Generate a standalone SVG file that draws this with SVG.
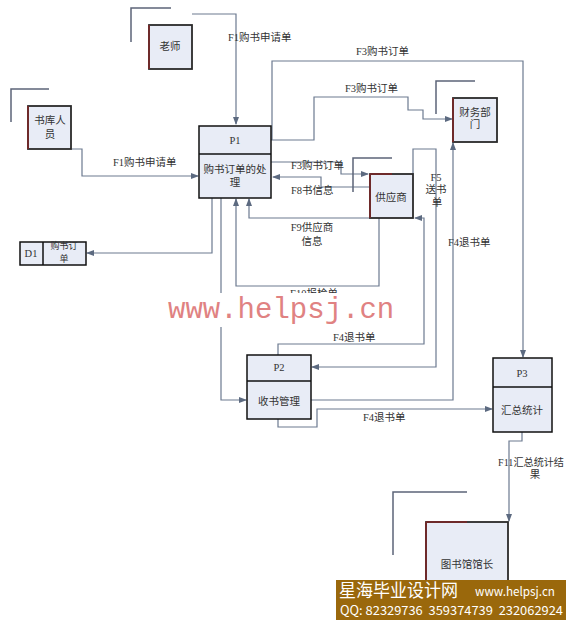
<svg xmlns="http://www.w3.org/2000/svg" width="566" height="620" viewBox="0 0 566 620">
<defs>
<marker id="arr" markerUnits="userSpaceOnUse" markerWidth="8" markerHeight="6" refX="7" refY="3" orient="auto">
<path d="M0,0 L8,3 L0,6 z" fill="#5c6a80"/>
</marker>
<style>
.ent{fill:#e8ecf6;stroke:#2a2a2a;stroke-width:1.8}
.edge{stroke:#6e2a2a;stroke-width:2}
.proc{fill:#e8ecf6;stroke:#111;stroke-width:1.5}
.deco{fill:none;stroke:#5c6478;stroke-width:1.5}
.con{fill:none;stroke:#6c7a90;stroke-width:1.2}
.arr{marker-end:url(#arr)}
text{font-family:"Liberation Serif","Noto Sans CJK SC",serif;font-size:10.5px;fill:#333}
.c{text-anchor:middle}
.sm{font-size:9px}
.wm{font-family:"Liberation Mono",monospace;font-size:29px;fill:#e08282}
.bn{font-family:"Noto Sans CJK SC",sans-serif;fill:#fff;white-space:pre}
.b1{font-size:18px}
.b2{font-size:12.5px}
</style>
</defs>
<rect width="566" height="620" fill="#fff"/>

<g id="connectors">
<path class="con arr" d="M192,14 H236 V124"/>
<path class="con arr" d="M71,149 H82 V176 H198"/>
<path class="con arr" d="M271,140 H314 V97 H408 V110 H423 V119 H452"/>
<path class="con arr" d="M272,140 V61 H523 V357"/>
<path class="con arr" d="M271,162 H341 V174 H368"/>
<path class="con arr" d="M370,187 H321 V177 H273"/>
<path class="con arr" d="M370,218 H249 V199"/>
<path class="con arr" d="M379,218 V286 H236 V199"/>
<path class="con arr" d="M212,198 V253 H87"/>
<path class="con arr" d="M221,198 V400 H246"/>
<path class="con arr" d="M278,355 V344 H424 V218 H415"/>
<path class="con arr" d="M413,174 V149 H436 V367 H312"/>
<path class="con arr" d="M311,400 H453 V143"/>
<path class="con arr" d="M278,419 V427 H317 V409 H492"/>
<path class="con arr" d="M522,432 V441 H509 V521"/>
</g>

<g id="labels">
<text x="228" y="41">F1购书申请单</text>
<text x="113" y="166">F1购书申请单</text>
<text x="356" y="55">F3购书订单</text>
<text x="345" y="92">F3购书订单</text>
<text x="291" y="169">F3购书订单</text>
<text x="291" y="194">F8书信息</text>
<text class="c" x="436" y="181">F5</text>
<text class="c" x="436" y="193">送书</text>
<text class="c" x="437" y="206">单</text>
<text class="c" x="312" y="231">F9供应商</text>
<text class="c" x="312" y="245">信息</text>
<text class="c" x="314" y="297">F10报检单</text>
<text x="333" y="341">F4退书单</text>
<text x="448" y="246">F4退书单</text>
<text x="363" y="421">F4退书单</text>
<text x="498" y="466" textLength="66" lengthAdjust="spacingAndGlyphs">F11汇总统计结</text>
<text class="c" x="535" y="478">果</text>
</g>

<g id="teacher">
<path class="deco" d="M131,42 V8 H171"/>
<rect class="ent" x="149" y="25" width="43" height="44"/>
<line class="edge" x1="149" y1="25" x2="149" y2="69"/>
<text class="c" x="170" y="50">老师</text>
</g>

<g id="librarian">
<path class="deco" d="M11,122 V89 H49"/>
<rect class="ent" x="28" y="106" width="43" height="43"/>
<line class="edge" x1="28" y1="106" x2="28" y2="149"/>
<text class="c" x="50" y="124">书库人</text>
<text class="c" x="50" y="138">员</text>
</g>

<g id="p1">
<rect class="proc" x="199" y="126" width="72" height="72"/>
<line x1="199" y1="154" x2="271" y2="154" stroke="#111" stroke-width="1.5"/>
<text class="c" x="235" y="144">P1</text>
<text class="c" x="235" y="173">购书订单的处</text>
<text class="c" x="235" y="186">理</text>
</g>

<g id="d1">
<rect class="proc" x="20" y="242" width="66" height="23"/>
<line x1="43" y1="242" x2="43" y2="265" stroke="#111" stroke-width="1.5"/>
<text class="c" x="31" y="257">D1</text>
<text class="c sm" x="64" y="249">购书订</text>
<text class="c sm" x="64" y="262">单</text>
</g>

<g id="supplier">
<path class="deco" d="M353,192 V158 H392"/>
<rect class="ent" x="370" y="174" width="43" height="44"/>
<line class="edge" x1="370" y1="174" x2="370" y2="218"/>
<line class="edge" x1="370" y1="174" x2="392" y2="174"/>
<text class="c" x="391" y="201">供应商</text>
</g>

<g id="finance">
<path class="deco" d="M436,114 V81 H475"/>
<rect class="ent" x="453" y="98" width="44" height="44"/>
<line class="edge" x1="453" y1="98" x2="453" y2="142"/>
<text class="c" x="475" y="116">财务部</text>
<text class="c" x="475" y="128">门</text>
</g>

<g id="p2">
<rect class="proc" x="247" y="355" width="64" height="64"/>
<line x1="247" y1="381" x2="311" y2="381" stroke="#111" stroke-width="1.5"/>
<text class="c" x="279" y="371">P2</text>
<text class="c" x="279" y="405">收书管理</text>
</g>

<g id="p3">
<rect class="proc" x="493" y="358" width="59" height="74"/>
<line x1="493" y1="387" x2="552" y2="387" stroke="#111" stroke-width="1.5"/>
<text class="c" x="522" y="377">P3</text>
<text class="c" x="522" y="414">汇总统计</text>
</g>

<g id="director">
<path class="deco" d="M393,555 V492 H467"/>
<rect class="ent" x="426" y="522" width="82" height="110"/>
<line class="edge" x1="426" y1="522" x2="426" y2="620"/>
<line class="edge" x1="426" y1="522" x2="467" y2="522"/>
<text class="c" x="467" y="568">图书馆馆长</text>
</g>

<g id="watermark">
<rect x="160" y="293" width="250" height="34" fill="#fff"/>
<text class="wm" x="168" y="318">www.helpsj.cn</text>
</g>

<g id="banner">
<rect x="336" y="580" width="230" height="40" fill="#9a680c"/>
<text class="bn b1" x="339" y="597" textLength="119" lengthAdjust="spacingAndGlyphs">星海毕业设计网</text>
<text class="bn b2" x="475" y="596" textLength="80" lengthAdjust="spacingAndGlyphs">www.helpsj.cn</text>
<text class="bn b2" x="340" y="615" textLength="223" lengthAdjust="spacingAndGlyphs" xml:space="preserve">QQ: 82329736  359374739  232062924</text>
</g>
</svg>
